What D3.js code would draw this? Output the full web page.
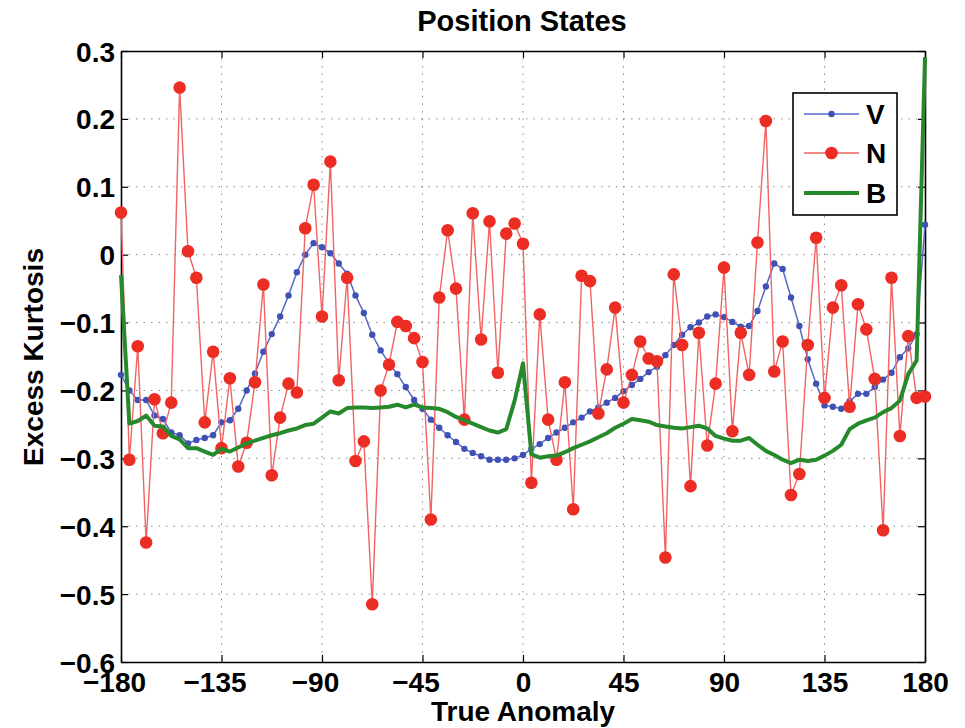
<!DOCTYPE html>
<html>
<head>
<meta charset="utf-8">
<script src="https://cdn.jsdelivr.net/npm/d3@7"></script>
<style>
  body { margin: 0; background: #fff; }
  text { font-family: "Liberation Sans", Arial, Helvetica, sans-serif; font-weight: bold; }
</style>
</head>
<body>
<div id="chart"></div>
<script>
// true anomaly of each sample (deg)
const angles = [
  -180, -176.25, -172.5, -168.75, -165, -161.25, -157.5, -153.75, -150, -146.25,
  -142.5, -138.75, -135, -131.25, -127.5, -123.75, -120, -116.25, -112.5, -108.75,
  -105, -101.25, -97.5, -93.75, -90, -86.25, -82.5, -78.75, -75, -71.25,
  -67.5, -63.75, -60, -56.25, -52.5, -48.75, -45, -41.25, -37.5, -33.75,
  -30, -26.25, -22.5, -18.75, -15, -11.25, -7.5, -3.75, 0, 3.75,
  7.5, 11.25, 15, 18.75, 22.5, 26.25, 30, 33.75, 37.5, 41.25,
  45, 48.75, 52.5, 56.25, 60, 63.75, 67.5, 71.25, 75, 78.75,
  82.5, 86.25, 90, 93.75, 97.5, 101.25, 105, 108.75, 112.5, 116.25,
  120, 123.75, 127.5, 131.25, 135, 138.75, 142.5, 146.25, 150, 153.75,
  157.5, 161.25, 165, 168.75, 172.5, 176.25, 180
];

const vValues = [
  -0.177, -0.200, -0.214, -0.214, -0.237, -0.242, -0.262, -0.266, -0.278, -0.273,
  -0.270, -0.266, -0.247, -0.244, -0.227, -0.200, -0.175, -0.143, -0.117, -0.091,
  -0.060, -0.026, 0.000, 0.017, 0.011, 0.002, -0.013, -0.028, -0.060, -0.086,
  -0.118, -0.141, -0.160, -0.176, -0.195, -0.214, -0.227, -0.243, -0.255, -0.266,
  -0.276, -0.286, -0.292, -0.297, -0.302, -0.302, -0.302, -0.300, -0.295, -0.286,
  -0.279, -0.270, -0.262, -0.255, -0.247, -0.240, -0.231, -0.225, -0.218, -0.211,
  -0.201, -0.192, -0.183, -0.173, -0.165, -0.148, -0.133, -0.118, -0.107, -0.100,
  -0.091, -0.088, -0.092, -0.099, -0.106, -0.105, -0.083, -0.047, -0.013, -0.021,
  -0.063, -0.105, -0.154, -0.190, -0.222, -0.224, -0.227, -0.216, -0.205, -0.205,
  -0.195, -0.184, -0.174, -0.151, -0.138, -0.117, 0.044
];

const nValues = [
  0.062, -0.302, -0.135, -0.424, -0.213, -0.263, -0.218, 0.246, 0.005, -0.034,
  -0.247, -0.143, -0.285, -0.182, -0.312, -0.277, -0.188, -0.044, -0.325, -0.240,
  -0.190, -0.203, 0.039, 0.103, -0.091, 0.137, -0.185, -0.034, -0.304, -0.275,
  -0.515, -0.200, -0.162, -0.099, -0.105, -0.123, -0.158, -0.390, -0.063, 0.036,
  -0.050, -0.243, 0.061, -0.125, 0.049, -0.174, 0.031, 0.046, 0.016, -0.336,
  -0.088, -0.243, -0.302, -0.188, -0.375, -0.031, -0.039, -0.234, -0.169, -0.078,
  -0.218, -0.177, -0.128, -0.153, -0.157, -0.446, -0.029, -0.133, -0.341, -0.115,
  -0.281, -0.190, -0.019, -0.260, -0.115, -0.177, 0.018, 0.197, -0.172, -0.128,
  -0.354, -0.323, -0.133, 0.025, -0.211, -0.078, -0.045, -0.224, -0.073, -0.110,
  -0.183, -0.406, -0.034, -0.267, -0.120, -0.211, -0.209
];

const bValues = [
  -0.030, -0.249, -0.245, -0.237, -0.252, -0.253, -0.267, -0.272, -0.285, -0.285,
  -0.290, -0.295, -0.286, -0.290, -0.284, -0.278, -0.274, -0.270, -0.266, -0.263,
  -0.259, -0.256, -0.251, -0.249, -0.240, -0.231, -0.234, -0.226, -0.225, -0.225,
  -0.226, -0.225, -0.224, -0.221, -0.225, -0.221, -0.225, -0.226, -0.227, -0.232,
  -0.239, -0.244, -0.249, -0.254, -0.259, -0.262, -0.257, -0.215, -0.160, -0.294,
  -0.299, -0.297, -0.296, -0.291, -0.285, -0.280, -0.275, -0.269, -0.263, -0.255,
  -0.249, -0.242, -0.244, -0.246, -0.251, -0.253, -0.255, -0.256, -0.254, -0.252,
  -0.256, -0.267, -0.271, -0.274, -0.274, -0.270, -0.280, -0.289, -0.295, -0.302,
  -0.307, -0.302, -0.304, -0.302, -0.296, -0.289, -0.280, -0.257, -0.249, -0.244,
  -0.240, -0.232, -0.226, -0.215, -0.176, -0.156, 0.291
];

const xTicks = [-180, -135, -90, -45, 0, 45, 90, 135, 180];
const yTicks = [-0.6, -0.5, -0.4, -0.3, -0.2, -0.1, 0, 0.1, 0.2, 0.3];
const seriesNames = ["V", "N", "B"];

const width = 965;
const height = 728;
const plotLeft = 121, plotRight = 925, plotTop = 51, plotBottom = 662;
const fontSize = 28;

const colV = "#3f51b5", colVLine = "#5668c4";
const colN = "#ec2d24", colNLine = "#f26363";
const colB = "#26892b";

const x = d3.scaleLinear().domain([-180, 180]).range([plotLeft, plotRight]);
const y = d3.scaleLinear().domain([-0.6, 0.3]).range([plotBottom, plotTop]);

const svg = d3.select("#chart")
  .append("svg")
  .attr("width", width)
  .attr("height", height);

// dotted grid
const grid = svg.append("g").attr("stroke", "#8a8a8a").attr("stroke-width", 1).attr("stroke-dasharray", "1.5,6");
grid.selectAll(".gx")
  .data(xTicks.slice(1, -1))
  .enter().append("line")
  .attr("x1", d => x(d)).attr("x2", d => x(d))
  .attr("y1", plotTop).attr("y2", plotBottom);
grid.selectAll(".gy")
  .data(yTicks.slice(1, -1))
  .enter().append("line")
  .attr("y1", d => y(d)).attr("y2", d => y(d))
  .attr("x1", plotLeft).attr("x2", plotRight);

const yFmt = d => (d === 0 ? "0" : d3.format(".1f")(d));

// axes (ticks point inward like matlab)
const gBottom = svg.append("g")
  .attr("transform", `translate(0,${plotBottom})`)
  .call(d3.axisBottom(x).tickValues(xTicks).tickSizeInner(-7).tickSizeOuter(0).tickPadding(10));
gBottom.selectAll("text")
  .attr("dx", d => (d < 0 ? -7 : 0));

svg.append("g")
  .attr("transform", `translate(0,${plotTop})`)
  .call(d3.axisTop(x).tickValues(xTicks).tickSizeInner(-7).tickSizeOuter(0).tickFormat(""));

svg.append("g")
  .attr("transform", `translate(${plotLeft},0)`)
  .call(d3.axisLeft(y).tickValues(yTicks).tickSizeInner(-7).tickSizeOuter(0).tickPadding(6).tickFormat(yFmt))
  .selectAll("text")
  .attr("dy", "0.36em");

svg.append("g")
  .attr("transform", `translate(${plotRight},0)`)
  .call(d3.axisRight(y).tickValues(yTicks).tickSizeInner(-7).tickSizeOuter(0).tickFormat(""));

svg.selectAll(".domain").attr("stroke", "#000").attr("stroke-width", 1.6);
svg.selectAll(".tick line").attr("stroke", "#000").attr("stroke-width", 1.2);
svg.selectAll(".tick text")
  .attr("fill", "#000")
  .style("font-size", `${fontSize}px`)
  .style("font-family", "'Liberation Sans', Arial, sans-serif")
  .style("font-weight", "bold");

// series
const vData = angles.map((a, i) => ({ a, v: vValues[i] }));
const nData = angles.map((a, i) => ({ a, v: nValues[i] }));
const bData = angles.map((a, i) => ({ a, v: bValues[i] }));

const line = d3.line().x(d => x(d.a)).y(d => y(d.v));

const plot = svg.append("g");

plot.append("path")
  .datum(vData)
  .attr("fill", "none")
  .attr("stroke", colVLine)
  .attr("stroke-width", 1.5)
  .attr("d", line);
plot.selectAll(".vdot")
  .data(vData)
  .enter().append("circle")
  .attr("cx", d => x(d.a))
  .attr("cy", d => y(d.v))
  .attr("r", 3.2)
  .attr("fill", colV);

plot.append("path")
  .datum(nData)
  .attr("fill", "none")
  .attr("stroke", colNLine)
  .attr("stroke-width", 1.4)
  .attr("d", line);
plot.selectAll(".ndot")
  .data(nData)
  .enter().append("circle")
  .attr("cx", d => x(d.a))
  .attr("cy", d => y(d.v))
  .attr("r", 6.3)
  .attr("fill", colN);

plot.append("path")
  .datum(bData)
  .attr("fill", "none")
  .attr("stroke", colB)
  .attr("stroke-width", 4)
  .attr("stroke-linejoin", "round")
  .attr("d", line);

// title and axis labels
svg.append("text")
  .attr("x", 522)
  .attr("y", 31)
  .attr("text-anchor", "middle")
  .style("font-size", "29px")
  .text("Position States");

svg.append("text")
  .attr("x", 523)
  .attr("y", 721)
  .attr("text-anchor", "middle")
  .style("font-size", `${fontSize}px`)
  .text("True Anomaly");

svg.append("text")
  .attr("transform", "translate(43,357) rotate(-90)")
  .attr("text-anchor", "middle")
  .style("font-size", `${fontSize}px`)
  .text("Excess Kurtosis");

// legend
const legend = svg.append("g");
legend.append("rect")
  .attr("x", 793).attr("y", 93)
  .attr("width", 104).attr("height", 122)
  .attr("fill", "#fff")
  .attr("stroke", "#000")
  .attr("stroke-width", 1.6);

const legendRows = [
  { name: seriesNames[0], color: colVLine, dot: colV, r: 3.2, w: 1.5, y: 114 },
  { name: seriesNames[1], color: colNLine, dot: colN, r: 6.3, w: 1.4, y: 153 },
  { name: seriesNames[2], color: colB, dot: colB, r: 0, w: 4, y: 193 }
];
const row = legend.selectAll(".row")
  .data(legendRows)
  .enter().append("g");
row.append("line")
  .attr("x1", 804).attr("x2", 859)
  .attr("y1", d => d.y).attr("y2", d => d.y)
  .attr("stroke", d => d.color)
  .attr("stroke-width", d => d.w);
row.append("circle")
  .attr("cx", 831.5)
  .attr("cy", d => d.y)
  .attr("r", d => d.r)
  .attr("fill", d => d.dot);
row.append("text")
  .attr("x", 866)
  .attr("y", d => d.y)
  .attr("dy", "0.36em")
  .style("font-size", `${fontSize}px`)
  .text(d => d.name);
</script>
</body>
</html>
